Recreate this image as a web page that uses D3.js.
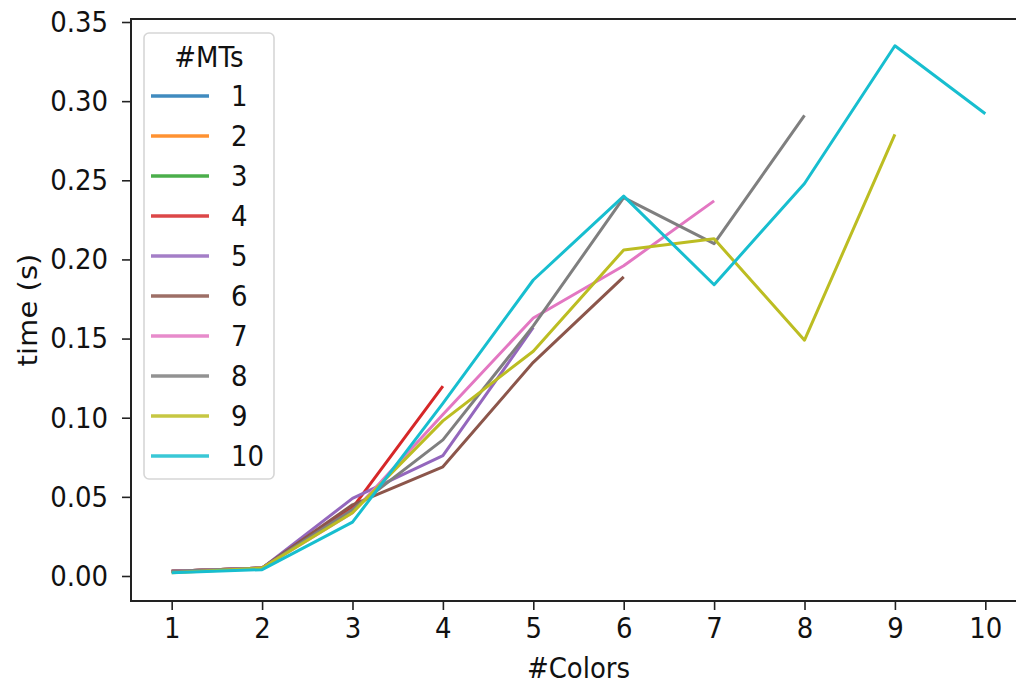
<!DOCTYPE html>
<html>
  <head>
    <script type="text/javascript" src="https://d3js.org/d3.v7.min.js"></script>
    <style>
      body { margin:0; background:#fff; }
      text { font-family:"DejaVu Sans", sans-serif; fill:#111; }
      text:not(.yl) { transform-box: fill-box; transform-origin: center; transform: scaleY(1.12); }
    </style>
  </head>
  <body>
  </body>
  <script>

// number of colors on x, one series per #MTs
var colors = [1,2,3,4,5,6,7,8,9,10];
var mts = ['1','2','3','4','5','6','7','8','9','10'];
var t1  = [0.002];
var t2  = [0.003, 0.005];
var t3  = [0.003, 0.005, 0.042];
var t4  = [0.003, 0.005, 0.043, 0.120];
var t5  = [0.003, 0.005, 0.049, 0.076, 0.157];
var t6  = [0.003, 0.005, 0.045, 0.069, 0.135, 0.189];
var t7  = [0.003, 0.005, 0.040, 0.102, 0.163, 0.196, 0.237];
var t8  = [0.003, 0.005, 0.042, 0.086, 0.158, 0.239, 0.210, 0.291];
var t9  = [0.002, 0.005, 0.040, 0.098, 0.142, 0.206, 0.213, 0.149, 0.279];
var t10 = [0.002, 0.004, 0.034, 0.109, 0.187, 0.240, 0.184, 0.248, 0.335, 0.292];
var series = [t1,t2,t3,t4,t5,t6,t7,t8,t9,t10];
var yTicks = [0, 0.05, 0.10, 0.15, 0.20, 0.25, 0.30, 0.35];
var palette = ['#1f77b4','#ff7f0e','#2ca02c','#d62728','#9467bd','#8c564b','#e377c2','#7f7f7f','#bcbd22','#17becf'];

window.onload = function(){
  var W = 1016, H = 685;
  var pl = 131, pr = 1026, pt = 19, pb = 601;
  var fs = 26;

  var svg = d3.select("body").append("svg").attr("width", W).attr("height", H);

  var x = d3.scaleLinear().domain([0.55, 10.45]).range([pl, pr]);
  var y = d3.scaleLinear().domain([-0.0158, 0.3519]).range([pb, pt]);

  // lines
  var line = d3.line().x(function(d,i){ return x(colors[i]); }).y(function(d){ return y(d); });
  svg.append("g").selectAll("path").data(series).enter().append("path")
     .attr("d", line)
     .attr("fill", "none")
     .attr("stroke", function(d,i){ return palette[i]; })
     .attr("stroke-width", 3)
     .attr("stroke-linejoin", "round");

  // axes
  var gx = svg.append("g").attr("transform", "translate(0," + pb + ")")
     .call(d3.axisBottom(x).tickValues(colors).tickFormat(d3.format("d")).tickSize(9).tickPadding(8));
  var gy = svg.append("g").attr("transform", "translate(" + pl + ",0)")
     .call(d3.axisLeft(y).tickValues(yTicks).tickFormat(d3.format(".2f")).tickSize(9).tickPadding(14));
  [gx, gy].forEach(function(g){
    g.select(".domain").remove();
    g.selectAll(".tick line").attr("stroke", "#222").attr("stroke-width", 1.6);
    g.selectAll("text").attr("font-size", fs).attr("font-family", "DejaVu Sans").attr("fill", "#111");
  });

  // spines
  svg.append("rect").attr("x", pl).attr("y", pt).attr("width", pr-pl).attr("height", pb-pt)
     .attr("fill", "none").attr("stroke", "#222").attr("stroke-width", 2);

  // axis labels
  svg.append("text").attr("x", (pl+pr)/2).attr("y", 677).attr("text-anchor", "middle")
     .attr("font-size", fs).text("#Colors");
  svg.append("g").attr("transform", "translate(37," + (pt+pb)/2 + ") rotate(-90)")
     .append("text").attr("class", "yl").attr("transform", "scale(1.12,1)")
     .attr("text-anchor", "middle").attr("font-size", fs).text("time (s)");

  // legend
  var lg = svg.append("g");
  lg.append("rect").attr("x", 144).attr("y", 33).attr("width", 130).attr("height", 446).attr("rx", 5)
    .attr("fill", "#fff").attr("fill-opacity", 0.8).attr("stroke", "#d6d6d6").attr("stroke-width", 1.6);
  lg.append("text").attr("x", 209).attr("y", 66).attr("text-anchor", "middle").attr("font-size", fs).text("#MTs");
  var items = lg.selectAll("g.item").data(mts).enter().append("g").attr("class", "item")
    .attr("transform", function(d,i){ return "translate(0," + (96 + i*40) + ")"; });
  items.append("line").attr("x1", 151).attr("x2", 209).attr("y1", 0).attr("y2", 0)
    .attr("stroke", function(d,i){ return palette[i]; }).attr("stroke-width", 3.5).attr("stroke-opacity", 0.85);
  items.append("text").attr("x", 231).attr("y", 9).attr("font-size", fs).text(function(d){ return d; });
};

  </script>
</html>
